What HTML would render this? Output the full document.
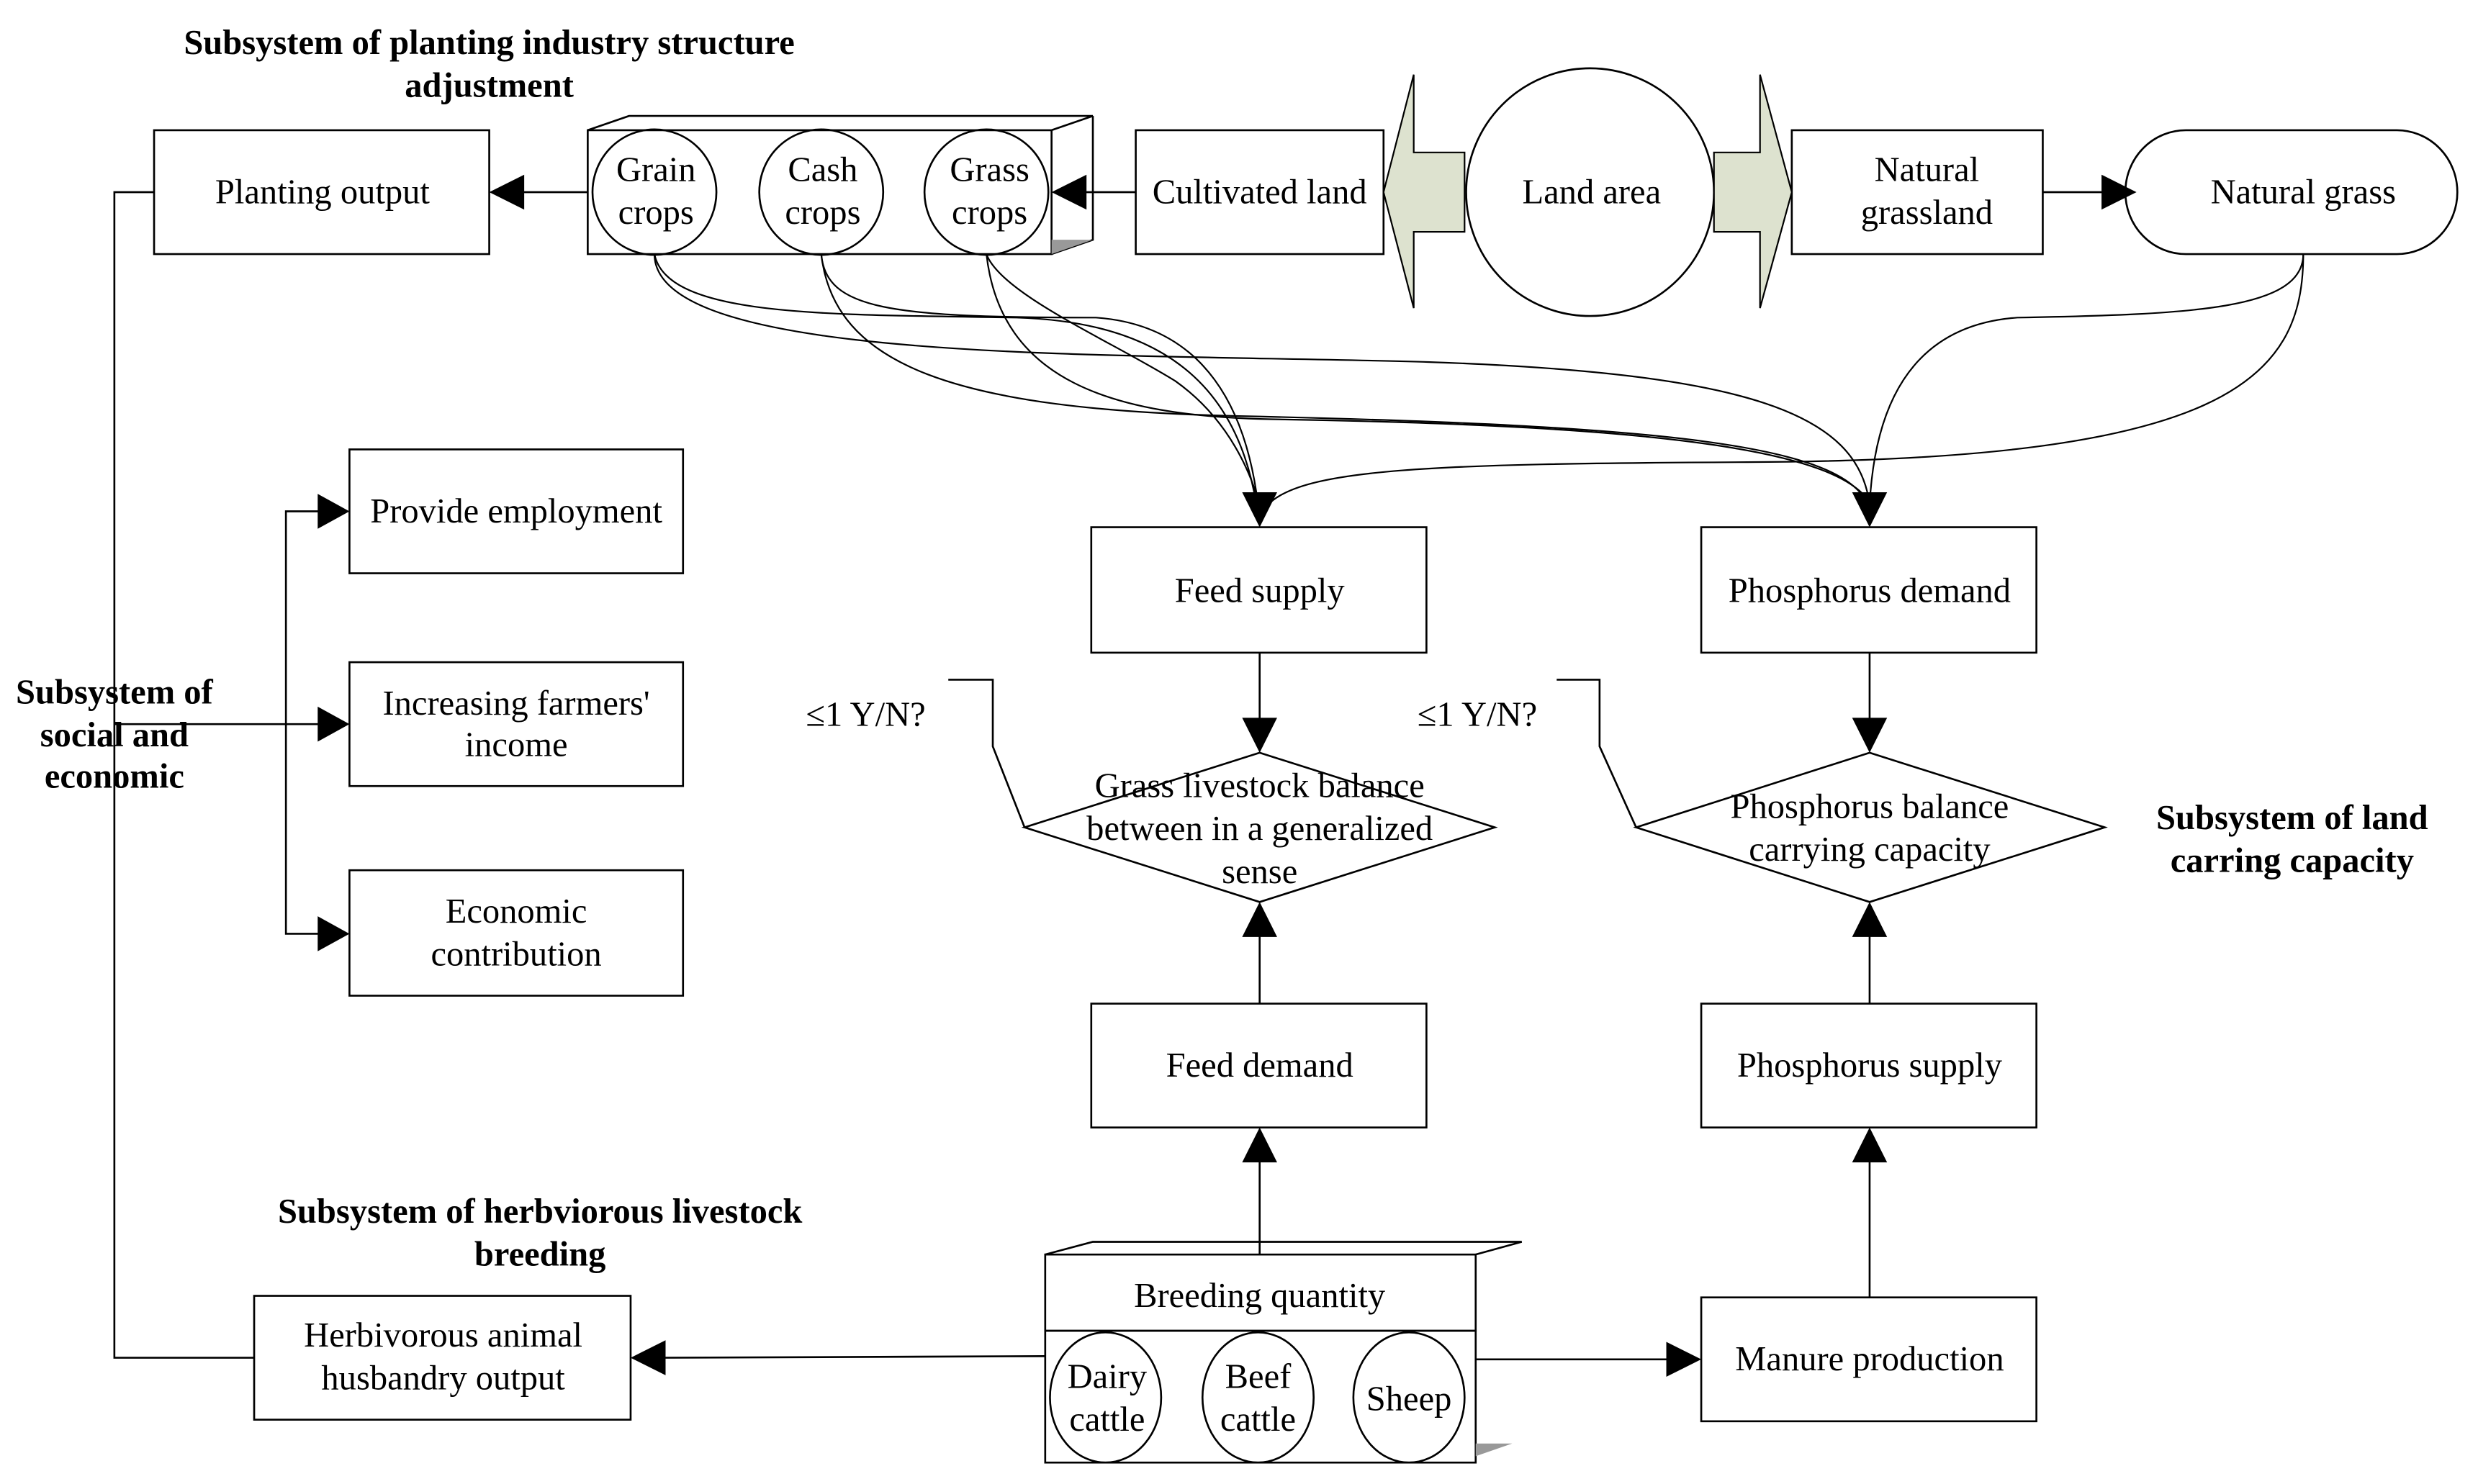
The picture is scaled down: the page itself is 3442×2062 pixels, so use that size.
<!DOCTYPE html>
<html><head><meta charset="utf-8"><style>
html,body{margin:0;padding:0;background:#fff}
svg{display:block}
text{font-family:"Liberation Serif",serif;font-size:22px;fill:#000;text-anchor:middle}
.b{font-weight:bold;font-size:22px}
</style></head><body>
<svg width="3442" height="2062" viewBox="0 0 1560 934.5" preserveAspectRatio="none" xmlns="http://www.w3.org/2000/svg">
<text class="b" x="308" y="34">Subsystem of planting industry structure</text>
<text class="b" x="308" y="61">adjustment</text>

<g fill="none" stroke="#000" stroke-width="1.2">
<rect x="97" y="82" width="211" height="78"/>
<rect x="370" y="82" width="292" height="78"/>
<polyline points="370,82 396,73 688,73 662,82"/>
<polyline points="688,73 688,151 662,160"/>
<ellipse cx="412" cy="121" rx="39" ry="39.5"/>
<ellipse cx="517" cy="121" rx="39" ry="39.5"/>
<ellipse cx="621" cy="121" rx="39" ry="39.5"/>
<rect x="715" y="82" width="156" height="78"/>
<rect x="1128" y="82" width="158" height="78"/>
<rect x="1338" y="82" width="209" height="78" rx="38" ry="39"/>
<ellipse cx="1001" cy="121" rx="78" ry="78"/>
</g>
<polygon points="662,160 688,151 662,151" fill="#999"/>
<polygon points="871,121 890,47 890,96 922,96 922,146 890,146 890,194" fill="#dde2cf" stroke="#000" stroke-width="1"/>
<polygon points="1128,121 1108,47 1108,96 1079,96 1079,146 1108,146 1108,194" fill="#dde2cf" stroke="#000" stroke-width="1"/>

<text x="203" y="128">Planting output</text>
<text x="413" y="114">Grain</text><text x="413" y="141">crops</text>
<text x="518" y="114">Cash</text><text x="518" y="141">crops</text>
<text x="623" y="114">Grass</text><text x="623" y="141">crops</text>
<text x="793" y="128">Cultivated land</text>
<text x="1002" y="128">Land area</text>
<text x="1213" y="114">Natural</text><text x="1213" y="141">grassland</text>
<text x="1450" y="128">Natural grass</text>

<g stroke="#000" stroke-width="1.2" fill="none">
<line x1="370" y1="121" x2="325" y2="121"/>
<line x1="715" y1="121" x2="680" y2="121"/>
<line x1="1286" y1="121" x2="1325" y2="121"/>
</g>
<polygon points="308,121 330,110 330,132"/>
<polygon points="662,121 684,110 684,132"/>
<polygon points="1345,121 1323,110 1323,132"/>

<g fill="none" stroke="#000" stroke-width="1">
<path d="M412,160 C412,230 700,222 900,228 C1100,235 1170,260 1177,318"/>
<path d="M412,160 C420,200 520,198 640,200 C740,203 780,250 791,318"/>
<path d="M517,160 C520,195 560,200 690,200 C760,205 785,260 792,318"/>
<path d="M517,160 C525,230 600,258 780,262 C1050,268 1160,280 1176,318"/>
<path d="M621,160 C630,185 700,215 740,240 C775,265 788,300 793,318"/>
<path d="M621,160 C630,240 700,262 800,264 C1050,268 1160,284 1178,318"/>
<path d="M1450,160 C1450,195 1380,198 1270,200 C1200,205 1180,260 1177,318"/>
<path d="M1450,160 C1450,240 1400,290 1100,291 C900,292 820,295 798,318"/>
</g>
<polygon points="793,332 782,310 804,310"/>
<polygon points="1177,332 1166,310 1188,310"/>

<g fill="none" stroke="#000" stroke-width="1.2">
<rect x="687" y="332" width="211" height="79"/>
<rect x="1071" y="332" width="211" height="79"/>
<polygon points="793,474 941,521 793,568 645,521"/>
<polygon points="1177,474 1325,521 1177,568 1030,521"/>
<rect x="687" y="632" width="211" height="78"/>
<rect x="1071" y="632" width="211" height="78"/>
<rect x="1071" y="817" width="211" height="78"/>
<rect x="160" y="816" width="237" height="78"/>
<rect x="658" y="790" width="271" height="48"/>
<rect x="658" y="838" width="271" height="83"/>
<polyline points="658,790 688,782 958,782 929,790"/>
<ellipse cx="696" cy="880" rx="35" ry="41"/>
<ellipse cx="792" cy="880" rx="35" ry="41"/>
<ellipse cx="887" cy="880" rx="35" ry="41"/>
<line x1="793" y1="411" x2="793" y2="456"/>
<line x1="1177" y1="411" x2="1177" y2="456"/>
<line x1="793" y1="632" x2="793" y2="586"/>
<line x1="1177" y1="632" x2="1177" y2="586"/>
<line x1="793" y1="790" x2="793" y2="728"/>
<line x1="1177" y1="817" x2="1177" y2="728"/>
<line x1="658" y1="854" x2="415" y2="855"/>
<line x1="929" y1="856" x2="1053" y2="856"/>
<polyline points="597,428 625,428 625,470 645,521"/>
<polyline points="980,428 1007,428 1007,470 1030,521"/>
<polyline points="97,121 72,121 72,855 160,855"/>
<line x1="72" y1="456" x2="202" y2="456"/>
<polyline points="202,322 180,322 180,588 202,588"/>
<rect x="220" y="283" width="210" height="78"/>
<rect x="220" y="417" width="210" height="78"/>
<rect x="220" y="548" width="210" height="79"/>
</g>
<polygon points="929,917 952,909 929,909" fill="#999"/>
<g>
<polygon points="793,474 782,452 804,452"/>
<polygon points="1177,474 1166,452 1188,452"/>
<polygon points="793,568 782,590 804,590"/>
<polygon points="1177,568 1166,590 1188,590"/>
<polygon points="793,710 782,732 804,732"/>
<polygon points="1177,710 1166,732 1188,732"/>
<polygon points="397,855 419,844 419,866"/>
<polygon points="1071,856 1049,845 1049,867"/>
<polygon points="220,322 200,311 200,333"/>
<polygon points="220,456 200,445 200,467"/>
<polygon points="220,588 200,577 200,599"/>
</g>

<text x="793" y="379">Feed supply</text>
<text x="1177" y="379">Phosphorus demand</text>
<text x="793" y="502">Grass livestock balance</text>
<text x="793" y="529">between in a generalized</text>
<text x="793" y="556">sense</text>
<text x="1177" y="515">Phosphorus balance</text>
<text x="1177" y="542">carrying capacity</text>
<text x="793" y="678">Feed demand</text>
<text x="1177" y="678">Phosphorus supply</text>
<text x="1177" y="863">Manure production</text>
<text x="279" y="848">Herbivorous animal</text>
<text x="279" y="875">husbandry output</text>
<text x="793" y="823">Breeding quantity</text>
<text x="697" y="874">Dairy</text><text x="697" y="901">cattle</text>
<text x="792" y="874">Beef</text><text x="792" y="901">cattle</text>
<text x="887" y="888">Sheep</text>
<text x="545" y="457">≤1 Y/N?</text>
<text x="930" y="457">≤1 Y/N?</text>
<text x="325" y="329">Provide employment</text>
<text x="325" y="450">Increasing farmers'</text>
<text x="325" y="476">income</text>
<text x="325" y="581">Economic</text>
<text x="325" y="608">contribution</text>

<text class="b" x="72" y="443">Subsystem of</text>
<text class="b" x="72" y="470">social and</text>
<text class="b" x="72" y="496">economic</text>
<text class="b" x="1443" y="522">Subsystem of land</text>
<text class="b" x="1443" y="549">carring capacity</text>
<text class="b" x="340" y="770">Subsystem of herbviorous livestock</text>
<text class="b" x="340" y="797">breeding</text>
</svg>
</body></html>
